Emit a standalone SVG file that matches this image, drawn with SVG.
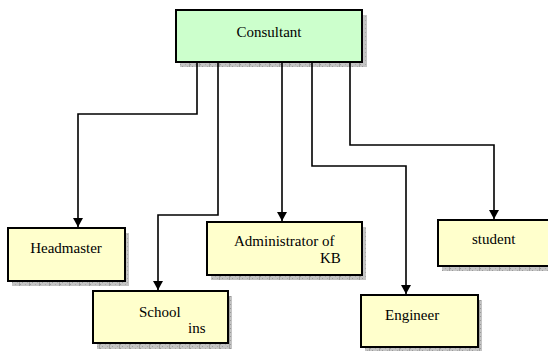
<svg xmlns="http://www.w3.org/2000/svg" width="548" height="351" viewBox="0 0 548 351">
<style>
.box{stroke:#000;stroke-width:2}
.green{fill:#ccffcc}
.yellow{fill:#ffffcc}
.shadow{fill:url(#hatch)}
text{font-family:'Liberation Serif','Times New Roman','DejaVu Serif',serif;font-size:15px;fill:#000}
.c{fill:none;stroke:#000;stroke-width:1.6}
</style>
<defs>
<pattern id="hatch" width="10" height="4" patternUnits="userSpaceOnUse">
<rect width="10" height="4" fill="#c4c4c4"/>
<rect x="0" y="0" width="1" height="1" fill="#9a9a9a"/>
<rect x="2" y="2" width="1" height="1" fill="#9a9a9a"/>
<rect x="5" y="0" width="1" height="1" fill="#a8a8a8"/>
<rect x="7" y="2" width="1" height="1" fill="#a8a8a8"/>
<rect x="9" y="0" width="1" height="4" fill="#a0a0a0"/>
</pattern>
<marker id="arr" markerWidth="9" markerHeight="10" refX="9" refY="5" orient="auto" markerUnits="userSpaceOnUse">
<path d="M0,0 L9,5 L0,10 Z" fill="#000"/>
</marker>
</defs>
<g id="consultant">
<rect class="shadow" x="180" y="15" width="187" height="52"/>
<rect class="box green" x="176" y="10" width="186" height="52"/>
<text x="269" y="37" text-anchor="middle" font-family="Liberation Serif, serif">Consultant</text>
</g>
<g id="headmaster">
<rect class="shadow" x="12" y="233" width="117" height="53"/>
<rect class="box yellow" x="8" y="228" width="117" height="53"/>
<text x="66" y="253" text-anchor="middle" font-family="Liberation Serif, serif">Headmaster</text>
</g>
<g id="school">
<rect class="shadow" x="97" y="296" width="135" height="53"/>
<rect class="box yellow" x="93" y="291" width="135" height="52"/>
<text x="139" y="317" font-family="Liberation Serif, serif">School</text>
<text x="188" y="333" font-family="Liberation Serif, serif">ins</text>
</g>
<g id="administrator">
<rect class="shadow" x="211" y="227" width="155" height="53"/>
<rect class="box yellow" x="207" y="222" width="155" height="53"/>
<text x="234" y="246" font-family="Liberation Serif, serif">Administrator of</text>
<text x="320" y="263" font-family="Liberation Serif, serif">KB</text>
</g>
<g id="student">
<rect class="shadow" x="442" y="225" width="110" height="46"/>
<rect class="box yellow" x="438" y="220" width="115" height="46"/>
<text x="472" y="244" font-family="Liberation Serif, serif">student</text>
</g>
<g id="engineer">
<rect class="shadow" x="365" y="300" width="117" height="51"/>
<rect class="box yellow" x="361" y="295" width="117" height="52"/>
<text x="385" y="320" font-family="Liberation Serif, serif">Engineer</text>
</g>
<g id="connectors">
<path class="c" d="M197,62 V114 H78 V227" marker-end="url(#arr)"/>
<path class="c" d="M218,62 V215 H158 V290" marker-end="url(#arr)"/>
<path class="c" d="M282,62 V221" marker-end="url(#arr)"/>
<path class="c" d="M312,62 V166 H406 V294" marker-end="url(#arr)"/>
<path class="c" d="M350,62 V145 H494 V219" marker-end="url(#arr)"/>
</g>
</svg>
